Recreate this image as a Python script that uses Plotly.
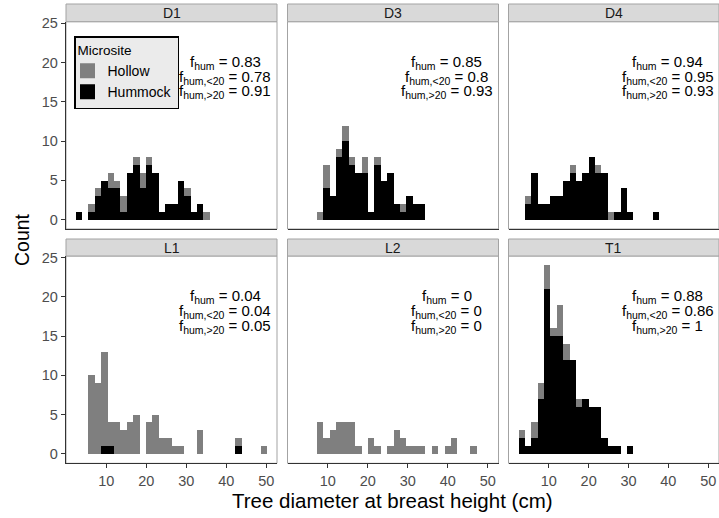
import plotly.graph_objects as go

# ---------------- data ----------------
sites = ["D1", "D3", "D4", "L1", "L2", "T1"]

# histogram bin centres (cm), bin width 1.6
bin_centers = [3.1, 4.7, 6.3, 7.9, 9.5, 11.1, 12.7, 14.3, 15.9, 17.5,
               19.1, 20.7, 22.3, 23.9, 25.5, 27.1, 28.7, 30.3, 31.9, 33.5,
               35.1, 36.7, 38.3, 39.9, 41.5, 43.1, 44.7, 46.3, 47.9, 49.5]
bin_width = 1.6

hummock_D1 = [1, 0, 1, 3, 5, 4, 4, 1, 6, 7, 4, 7, 6, 1, 2, 2, 5, 3, 1, 2, 0, 0, 0, 0, 0, 0, 0, 0, 0, 0]
hollow_D1  = [0, 0, 1, 1, 0, 2, 1, 2, 0, 1, 2, 1, 0, 0, 0, 0, 0, 1, 0, 0, 1, 0, 0, 0, 0, 0, 0, 0, 0, 0]

hummock_D3 = [0, 0, 0, 0, 4, 3, 8, 10, 7, 6, 6, 1, 7, 5, 6, 2, 1, 3, 2, 2, 0, 0, 0, 0, 0, 0, 0, 0, 0, 0]
hollow_D3  = [0, 0, 0, 1, 3, 0, 1, 2, 1, 0, 2, 0, 1, 0, 0, 0, 1, 0, 0, 0, 0, 0, 0, 0, 0, 0, 0, 0, 0, 0]

hummock_D4 = [0, 2, 6, 2, 2, 3, 3, 5, 6, 5, 6, 8, 6, 6, 0, 1, 4, 1, 0, 0, 0, 1, 0, 0, 0, 0, 0, 0, 0, 0]
hollow_D4  = [0, 1, 0, 0, 0, 0, 0, 0, 1, 0, 0, 0, 1, 0, 1, 0, 0, 0, 0, 0, 0, 0, 0, 0, 0, 0, 0, 0, 0, 0]

hummock_L1 = [0, 0, 0, 0, 1, 1, 0, 0, 0, 0, 0, 0, 0, 0, 0, 0, 0, 0, 0, 0, 0, 0, 0, 0, 0, 1, 0, 0, 0, 0]
hollow_L1  = [0, 0, 10, 9, 12, 3, 4, 3, 4, 5, 0, 4, 5, 2, 2, 1, 1, 0, 0, 3, 0, 0, 0, 0, 0, 1, 0, 0, 0, 1]

hummock_L2 = [0] * 30
hollow_L2  = [0, 0, 0, 4, 2, 3, 4, 4, 4, 1, 0, 2, 1, 0, 1, 3, 2, 1, 1, 1, 0, 1, 0, 1, 2, 0, 0, 1, 0, 0]

hummock_T1 = [2, 1, 2, 7, 21, 15, 15, 12, 12, 6, 7, 6, 6, 2, 1, 1, 0, 1, 0, 0, 0, 0, 0, 0, 0, 0, 0, 0, 0, 0]
hollow_T1  = [1, 0, 2, 2, 3, 1, 4, 2, 0, 1, 0, 0, 0, 0, 0, 0, 0, 0, 0, 0, 0, 0, 0, 0, 0, 0, 0, 0, 0, 0]

hummock_counts = [hummock_D1, hummock_D3, hummock_D4, hummock_L1, hummock_L2, hummock_T1]
hollow_counts = [hollow_D1, hollow_D3, hollow_D4, hollow_L1, hollow_L2, hollow_T1]

f_hum_all = ["0.83", "0.85", "0.94", "0.04", "0", "0.88"]
f_hum_lt20 = ["0.78", "0.8", "0.95", "0.04", "0", "0.86"]
f_hum_gt20 = ["0.91", "0.93", "0.93", "0.05", "0", "1"]

x_ticks = [10, 20, 30, 40, 50]
y_ticks = [0, 5, 10, 15, 20, 25]

# ---------------- layout geometry (pixels) ----------------
W, H = 719, 518
col_px = [(66, 277), (287.5, 498.5), (508.5, 719)]
row_px = [(21.7, 229.0), (256.0, 463.3)]
strip_px = [(4.0, 21.7), (239.0, 256.0)]

def px_x(v):
    return v / W

def px_y(v):
    return 1 - v / H

FONT = "Liberation Sans, Arial, sans-serif"
HOLLOW_COL = "#7F7F7F"
HUM_COL = "#000000"
BORDER_COL = "#A3A3A3"

fig = go.Figure()
layout = dict(
    width=W, height=H,
    margin=dict(l=0, r=0, t=0, b=0, autoexpand=False),
    paper_bgcolor="white", plot_bgcolor="white",
    barmode="stack", bargap=0,
    font=dict(family=FONT, size=14, color="#000000"),
    showlegend=True,
    legend=dict(
        x=px_x(74), y=px_y(36), xanchor="left", yanchor="top",
        bgcolor="#EBEBEB", bordercolor="#000000", borderwidth=1.5,
        title=dict(text="Microsite", font=dict(size=13.5, color="#000000")),
        font=dict(size=14, color="#000000"),
        traceorder="normal", itemsizing="trace", itemwidth=30,
        tracegroupgap=0, indentation=-8,
    ),
)

shapes = []
annotations = []

for k, site in enumerate(sites):
    r, c = divmod(k, 3)
    ax = "" if k == 0 else str(k + 1)
    xa, ya = "x" + ax, "y" + ax
    x0, x1 = col_px[c]
    y0, y1 = row_px[r]
    bottom = (r == 1)
    left = (c == 0)

    layout["xaxis" + ax] = dict(
        domain=[px_x(x0), px_x(x1)], anchor=ya, range=[-0.1, 52.7],
        automargin=False,
        showgrid=False, zeroline=False,
        showline=True, linecolor="#333333", linewidth=1.3,
        tickvals=x_ticks, ticks="outside" if bottom else "",
        ticklen=4, tickcolor="#333333", tickwidth=1.1,
        showticklabels=bottom,
        tickfont=dict(size=14.5, color="#4D4D4D", family=FONT),
    )
    layout["yaxis" + ax] = dict(
        domain=[px_y(y1), px_y(y0)], anchor=xa, range=[-1.2, 25.2],
        automargin=False,
        showgrid=False, zeroline=False,
        showline=left, linecolor="#333333", linewidth=1.3,
        tickvals=y_ticks, ticks="outside" if left else "",
        ticklen=4, tickcolor="#333333", tickwidth=1.1,
        showticklabels=left,
        tickfont=dict(size=14.5, color="#4D4D4D", family=FONT),
    )

    fig.add_trace(go.Bar(
        x=bin_centers, y=hummock_counts[k], width=bin_width,
        marker=dict(color=HUM_COL, line=dict(width=0)),
        name="Hummock", showlegend=False, xaxis=xa, yaxis=ya,
    ))
    fig.add_trace(go.Bar(
        x=bin_centers, y=hollow_counts[k], width=bin_width,
        marker=dict(color=HOLLOW_COL, line=dict(width=0)),
        name="Hollow", showlegend=False, xaxis=xa, yaxis=ya,
    ))

    # panel border
    shapes.append(dict(type="rect", xref="paper", yref="paper",
                       x0=px_x(x0), x1=px_x(x1), y0=px_y(y1), y1=px_y(y0),
                       line=dict(color=BORDER_COL, width=1), fillcolor="rgba(0,0,0,0)",
                       layer="below"))
    # strip
    s0, s1 = strip_px[r]
    shapes.append(dict(type="rect", xref="paper", yref="paper",
                       x0=px_x(x0), x1=px_x(x1), y0=px_y(s1), y1=px_y(s0),
                       line=dict(color=BORDER_COL, width=1), fillcolor="#D9D9D9"))
    annotations.append(dict(text=site, xref="paper", yref="paper",
                            x=px_x((x0 + x1) / 2), y=px_y((s0 + s1) / 2),
                            xanchor="center", yanchor="middle", showarrow=False,
                            font=dict(size=14, color="#1A1A1A", family=FONT)))
    # f_hum labels
    lines = [
        "f<sub>hum</sub> = " + f_hum_all[k],
        "f<sub>hum,&lt;20</sub> = " + f_hum_lt20[k],
        "f<sub>hum,&gt;20</sub> = " + f_hum_gt20[k],
    ]
    for txt, yv in zip(lines, [20.05, 18.15, 16.25]):
        annotations.append(dict(text=txt, xref=xa, yref=ya, x=39.8, y=yv,
                                xanchor="center", yanchor="middle", showarrow=False,
                                font=dict(size=15, color="#000000", family=FONT)))

# legend entries (square keys)
for name, col in [("Hollow", HOLLOW_COL), ("Hummock", HUM_COL)]:
    fig.add_trace(go.Scatter(
        x=[None], y=[None], mode="markers", name=name,
        marker=dict(symbol="square", size=15, color=col, line=dict(width=0)),
        showlegend=True, xaxis="x", yaxis="y",
    ))

# axis titles
annotations.append(dict(text="Count", xref="paper", yref="paper",
                        x=px_x(22), y=px_y(240), textangle=-90,
                        xanchor="center", yanchor="middle", showarrow=False,
                        font=dict(size=19.5, color="#000000", family=FONT)))
annotations.append(dict(text="Tree diameter at breast height (cm)", xref="paper", yref="paper",
                        x=px_x(392.5), y=px_y(500),
                        xanchor="center", yanchor="middle", showarrow=False,
                        font=dict(size=20.5, color="#000000", family=FONT)))

layout["shapes"] = shapes
layout["annotations"] = annotations
fig.update_layout(**layout)

# place the figure flush with the window (no default 8px page margin, no scrollbars)
fig.write_html(
    "out.html",
    config={"displayModeBar": False},
    post_script="document.body.style.margin='0px';"
                "document.documentElement.style.overflow='hidden';",
)
